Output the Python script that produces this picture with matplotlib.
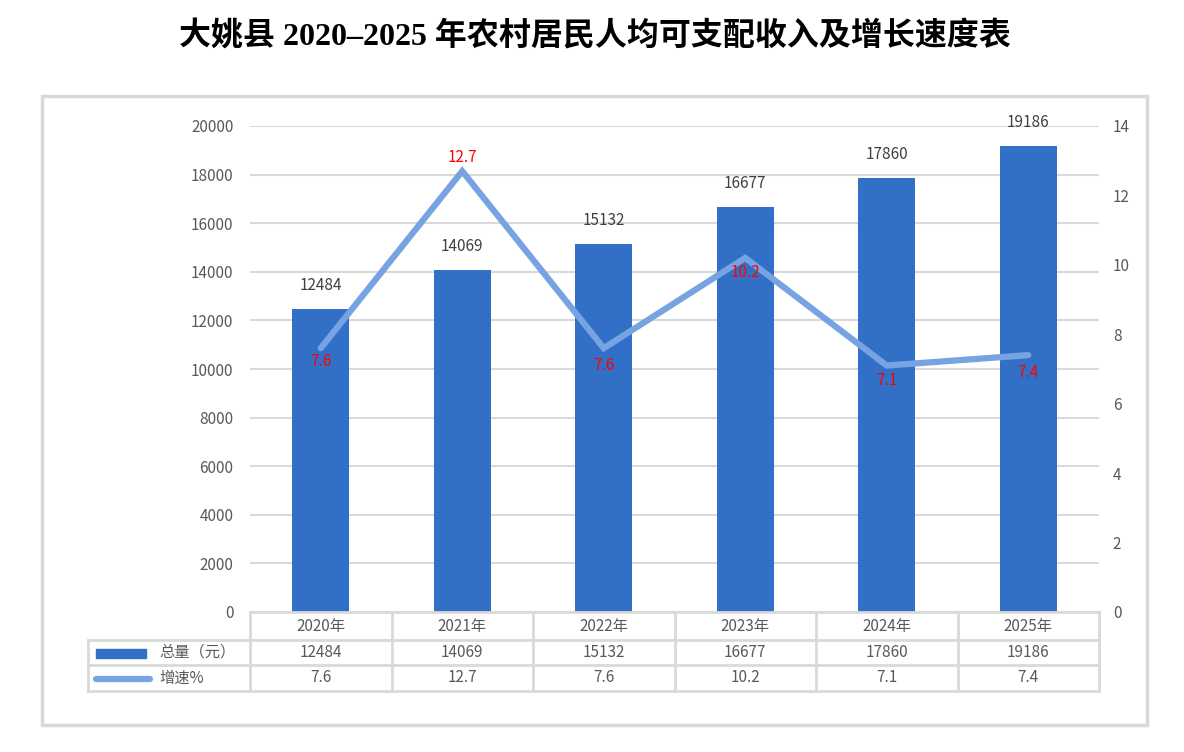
import matplotlib
matplotlib.use("Agg")
import matplotlib.pyplot as plt
from matplotlib.lines import Line2D
from matplotlib.patches import Rectangle

plt.rcParams['font.family'] = ['Noto Sans CJK SC', 'DejaVu Sans']

# ---- data ----
years = ["2020年", "2021年", "2022年", "2023年", "2024年", "2025年"]
totals = [12484, 14069, 15132, 16677, 17860, 19186]
growth = [7.6, 12.7, 7.6, 10.2, 7.1, 7.4]
series_names = ["总量（元）", "增速%"]
title = "大姚县 2020–2025 年农村居民人均可支配收入及增长速度表"

# ---- styles ----
W, H = 1184, 752
BAR_C = "#3170C6"
LINE_C = "#77A3E2"
GRID_C = "#D9D9D9"
TXT_C = "#595959"
LBL_C = "#404040"
label_offsets = [-13, 14, -17, -15, -15, -17]  # px, line data label offsets

fig = plt.figure(figsize=(W / 100, H / 100), dpi=100)

def fx(px):
    return px / W

def fy(py):
    return 1 - py / H

# outer frame
fig.patches.append(Rectangle((fx(42), fy(725)), fx(1147) - fx(42), fy(96) - fy(725),
                             transform=fig.transFigure, fill=False,
                             edgecolor=GRID_C, linewidth=2.5))

ax_l, ax_r, ax_b, ax_t = 250, 1099, 612, 126
ax = fig.add_axes([fx(ax_l), fy(ax_b), fx(ax_r) - fx(ax_l), fy(ax_t) - fy(ax_b)])
x = list(range(len(years)))
ax.bar(x, totals, width=0.4, color=BAR_C, zorder=2)
ax.set_xlim(-0.5, len(years) - 0.5)
ax.set_ylim(0, 20000)
ax.set_yticks(range(0, 20001, 2000))
ax.yaxis.grid(True, color=GRID_C, linewidth=1.5, zorder=0)
ax.set_axisbelow(True)
ax.set_xticks([])
for s in ax.spines.values():
    s.set_visible(False)
ax.tick_params(axis='y', length=0, labelsize=11, labelcolor=TXT_C, pad=12)
for xi, v in zip(x, totals):
    ax.annotate(f"{v}", (xi, v), xytext=(0, 17), textcoords='offset points',
                ha='center', va='center', fontsize=11, color=LBL_C, zorder=5)

ax2 = ax.twinx()
ax2.plot(x, growth, color=LINE_C, linewidth=4.5, solid_capstyle='round',
         solid_joinstyle='miter', zorder=3)
ax2.set_ylim(0, 14)
ax2.set_yticks(range(0, 15, 2))
for s in ax2.spines.values():
    s.set_visible(False)
ax2.tick_params(axis='y', length=0, labelsize=11, labelcolor=TXT_C, pad=10)
for xi, v, off in zip(x, growth, label_offsets):
    ax2.annotate(f"{v}", (xi, v), xytext=(0, off / 1.389), textcoords='offset points',
                 ha='center', va='center', fontsize=11, color="#FF0000", zorder=6)

# ---- data table ----
row_y = [612, 640, 665, 691]
col_w = (ax_r - ax_l) / len(years)
tbl_left = 88
lw = 2.0

def hline(x0, x1, y):
    fig.add_artist(Line2D([fx(x0), fx(x1)], [fy(y), fy(y)], color=GRID_C, linewidth=lw))

def vline(xp, y0, y1):
    fig.add_artist(Line2D([fx(xp), fx(xp)], [fy(y0), fy(y1)], color=GRID_C, linewidth=lw))

hline(ax_l, ax_r, row_y[0])
for yy in row_y[1:]:
    hline(tbl_left, ax_r, yy)
vline(tbl_left, row_y[1], row_y[3])
for i in range(len(years) + 1):
    vline(ax_l + i * col_w, row_y[0], row_y[3])

rows = [years, [str(v) for v in totals], [str(v) for v in growth]]
for r, vals in enumerate(rows):
    yc = (row_y[r] + row_y[r + 1]) / 2
    for i, t in enumerate(vals):
        fig.text(fx(ax_l + (i + 0.5) * col_w), fy(yc), t, ha='center', va='center',
                 fontsize=11, color=TXT_C)

# legend keys
fig.patches.append(Rectangle((fx(96), fy(658)), fx(146) - fx(96), fy(649) - fy(658),
                             transform=fig.transFigure, color=BAR_C))
fig.add_artist(Line2D([fx(96), fx(150)], [fy(679), fy(679)], color=LINE_C,
                      linewidth=4.5, solid_capstyle='round'))
for r, name in enumerate(series_names):
    yc = (row_y[r + 1] + row_y[r + 2]) / 2
    fig.text(fx(159), fy(yc), name, ha='left', va='center', fontsize=11, color=TXT_C)

fig.text(fx(595), fy(37), title, ha='center', va='center', fontsize=23,
         fontweight='bold', family=['Liberation Serif', 'Noto Sans CJK SC'], color='black')

fig.savefig("out.png", dpi=100)
